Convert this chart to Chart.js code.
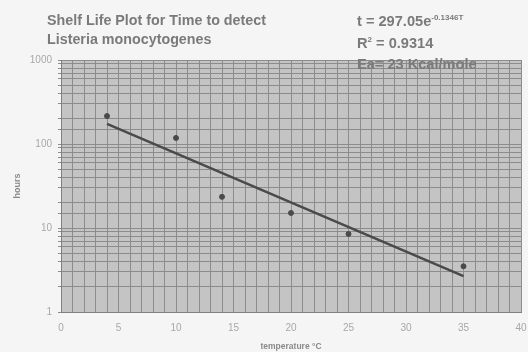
<!DOCTYPE html>
<html>
<head>
<meta charset="utf-8">
<script src="https://cdn.jsdelivr.net/npm/chart.js@4"></script>
<style>
  html, body { margin: 0; padding: 0; background: #f5f5f5; }
  #wrap { position: relative; width: 528px; height: 352px; }
  canvas { position: absolute; left: 0; top: 0; }
  .txt { position: absolute; font-family: "Liberation Sans", Arial, sans-serif; font-weight: bold; color: #7a7a7a; white-space: nowrap; }
  #title { left: 47px; top: 11px; font-size: 14.3px; line-height: 19px; }
  #eq { left: 357px; top: 11px; font-size: 14.6px; line-height: 21.5px; }
  #eq sup { font-size: 8px; vertical-align: 6px; line-height: 0; }
</style>
</head>
<body>
<div id="wrap">
  <canvas id="chart" width="528" height="352"></canvas>
  <div id="title" class="txt">Shelf Life Plot for Time to detect<br>Listeria monocytogenes</div>
  <div id="eq" class="txt">t = 297.05e<sup>-0.1346T</sup><br>R<sup>2</sup> = 0.9314<br>Ea= 23 Kcal/mole</div>
</div>
<script>
// measured points (temperature °C, hours)
const temps = [4, 10, 14, 20, 25, 35];
const hours = [215, 118, 23.5, 15.1, 8.5, 3.5];

// exponential trend line end points
const trendTemps = [4, 35];
const trendHours = [173.4, 2.67];

const xTickLabels = ['0', '5', '10', '15', '20', '25', '30', '35', '40'];
const yTickLabels = ['1', '10', '100', '1000'];

const ctx = document.getElementById('chart').getContext('2d');

const plotBg = {
  id: 'plotBg',
  beforeDraw(chart) {
    const a = chart.chartArea;
    const c = chart.ctx;
    c.save();
    c.fillStyle = '#c4c4c4';
    c.fillRect(a.left, a.top, a.right - a.left, a.bottom - a.top);
    c.restore();
  }
};

new Chart(ctx, {
  type: 'scatter',
  data: {
    datasets: [{
      label: 'trend',
      data: trendTemps.map((t, i) => ({ x: t, y: trendHours[i] })),
      showLine: true,
      borderColor: '#4a4a4a',
      borderWidth: 2.5,
      pointRadius: 0
    }, {
      label: 'data',
      data: temps.map((t, i) => ({ x: t, y: hours[i] })),
      backgroundColor: '#4a4a4a',
      borderColor: '#4a4a4a',
      pointRadius: 2.5
    }]
  },
  options: {
    responsive: false,
    animation: false,
    layout: { padding: { top: 60, right: 7, left: 10, bottom: 0 } },
    plugins: { legend: { display: false }, tooltip: { enabled: false } },
    scales: {
      x: {
        type: 'linear',
        min: 0,
        max: 40,
        afterFit(s) { s.height = 40; s.paddingRight = 0; s.paddingLeft = 0; },
        ticks: {
          stepSize: 1,
          autoSkip: false,
          maxRotation: 0,
          color: '#a8a8a8',
          font: { family: 'Liberation Sans', size: 10 },
          padding: 10,
          callback: v => (v % 5 === 0 ? xTickLabels[v / 5] : '')
        },
        grid: { color: '#8c8c8c', lineWidth: 1, drawTicks: false },
        border: { color: '#808080' },
        title: {
          display: true,
          text: 'temperature °C',
          color: '#8a8a8a',
          font: { family: 'Liberation Sans', size: 8.5, weight: 'bold' },
          padding: { top: 2, bottom: 0 }
        }
      },
      y: {
        type: 'logarithmic',
        min: 1,
        max: 1000,
        afterFit(s) { s.width = 51; },
        ticks: {
          autoSkip: false,
          color: '#a8a8a8',
          font: { family: 'Liberation Sans', size: 10 },
          padding: 6,
          callback: v => {
            const i = yTickLabels.indexOf(String(v));
            return i >= 0 ? yTickLabels[i] : '';
          }
        },
        grid: { color: '#8c8c8c', lineWidth: 1, tickLength: 3 },
        border: { color: '#808080' },
        title: {
          display: true,
          text: 'hours',
          color: '#8a8a8a',
          font: { family: 'Liberation Sans', size: 9, weight: 'bold' },
          padding: { top: 2, bottom: 0 }
        }
      }
    }
  },
  plugins: [plotBg]
});
</script>
</body>
</html>
